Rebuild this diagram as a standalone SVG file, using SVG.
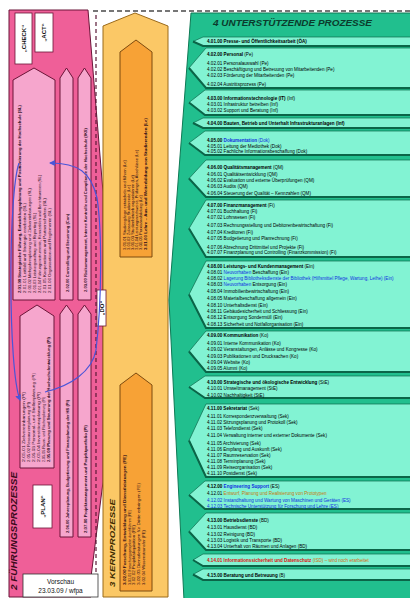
<svg xmlns="http://www.w3.org/2000/svg" width="410" height="598" viewBox="0 0 410 598">
<defs>
<style>
.t{font-family:"Liberation Sans",Arial,sans-serif;font-size:4.6px;fill:#000}
.r{font-family:"Liberation Sans",Arial,sans-serif;font-size:4px;fill:#2a0a18}
.b{font-weight:bold}
.lk{fill:#1030e0}
.row{fill:#82f3d3;stroke:#0c6a4c;stroke-width:0.7}
.sh{fill:none;stroke:#0b6548;stroke-width:2}
.pb{fill:#f6a6cd;stroke:#6b1538;stroke-width:1}
.ob{fill:#f7a236;stroke:#7d4a0e;stroke-width:1}
.wl{fill:#fff;stroke:#6b1538;stroke-width:0.8}
.lab{font-family:"Liberation Sans",Arial,sans-serif;font-size:6px;font-weight:bold;fill:#111;text-anchor:middle}
.ttl{font-family:"Liberation Sans",Arial,sans-serif;font-style:italic;font-weight:bold}
.blue{fill:none;stroke:#4a55d8;stroke-width:1.2}
</style>
<marker id="ah" markerWidth="6" markerHeight="6" refX="5" refY="3" orient="auto" markerUnits="userSpaceOnUse"><path d="M0,0 L6,3 L0,6 z" fill="#4a55d8"/></marker>
</defs>
<rect width="410" height="598" fill="#fff"/>

<g id="fuehrung">
<polygon points="9,10 88,10 103,192 103,482 91,577 91,597 9,597" fill="#ef5f98" stroke="#6b1538" stroke-width="1"/>
<text class="ttl" font-size="8.5" fill="#3a0a1a" transform="translate(17,590) rotate(-90)" textLength="118" lengthAdjust="spacingAndGlyphs">2 FÜHRUNGSPROZESSE</text>
<rect class="wl" x="15" y="13" width="17" height="51"/>
<text class="lab" transform="translate(25.8,38.5) rotate(-90)">„CHECK“</text>
<rect class="wl" x="35" y="13" width="18" height="39"/>
<text class="lab" transform="translate(46.2,32.5) rotate(-90)">„ACT“</text>
<polygon class="pb" points="13,80 34,68 55,80 55,300 13,300"/>
<polygon class="pb" points="60,78 66.5,68 73,78 73,300 60,300"/>
<polygon class="pb" points="78,78 84.5,68 91,78 91,300 78,300"/>
<text class="r b" transform="translate(21,293) rotate(-90)" textLength="188" lengthAdjust="spacingAndGlyphs">2.01.00 Strategische Führung, Entwicklungsplanung und Positionierung der Hochschule (SL)</text>
<text class="r" transform="translate(26,293) rotate(-90)" textLength="90" lengthAdjust="spacingAndGlyphs">2.01.01 Leitbild und Strategie erarbeiten (SL)</text>
<text class="r" transform="translate(31,293) rotate(-90)" textLength="105" lengthAdjust="spacingAndGlyphs">2.01.02 Mehrjahresplanung und Zielvereinbarungen (SL)</text>
<text class="r" transform="translate(36,293) rotate(-90)" textLength="80" lengthAdjust="spacingAndGlyphs">2.01.03 Leistungsauftrag und Reporting (SL)</text>
<text class="r" transform="translate(41,293) rotate(-90)" textLength="118" lengthAdjust="spacingAndGlyphs">2.01.04 Führungsinstrumente, Kennzahlen und Berichtswesen (SL)</text>
<text class="r" transform="translate(46,293) rotate(-90)" textLength="95" lengthAdjust="spacingAndGlyphs">2.01.05 Kooperationen und Partnerschaften (SL)</text>
<text class="r" transform="translate(51,293) rotate(-90)" textLength="85" lengthAdjust="spacingAndGlyphs">2.01.06 Organisation und Reglemente (SL)</text>
<text class="r b" transform="translate(69,292) rotate(-90)" textLength="78" lengthAdjust="spacingAndGlyphs">2.02.00 Controlling und Steuerung (Con)</text>
<text class="r b" transform="translate(87,292) rotate(-90)" textLength="164" lengthAdjust="spacingAndGlyphs">2.03.00 Risikomanagement, Interne Kontrolle und Compliance der Hochschule (IKS)</text>
<polygon class="pb" points="20,316 37,305 54,316 54,468 20,468"/>
<polygon class="pb" points="60,314 66.5,305 73,314 73,537 60,537"/>
<polygon class="pb" points="78,314 84.5,305 91,314 91,537 78,537"/>
<text class="r" transform="translate(25,462) rotate(-90)" textLength="70" lengthAdjust="spacingAndGlyphs">2.05.01 Zielvereinbarungen (Pl)</text>
<text class="r" transform="translate(30,462) rotate(-90)" textLength="60" lengthAdjust="spacingAndGlyphs">2.05.02 Ressourcenplanung (Pl)</text>
<text class="r" transform="translate(34.5,462) rotate(-90)" textLength="89" lengthAdjust="spacingAndGlyphs">2.05.03 Personal- und Stellenplanung (Pl)</text>
<text class="r" transform="translate(39.5,462) rotate(-90)" textLength="70" lengthAdjust="spacingAndGlyphs">2.05.04 Investitionsplanung (Pl)</text>
<text class="r" transform="translate(44.5,462) rotate(-90)" textLength="65" lengthAdjust="spacingAndGlyphs">2.05.05 Raum- und Flächenplanung (Pl)</text>
<text class="r b" transform="translate(50,462) rotate(-90)" textLength="125" lengthAdjust="spacingAndGlyphs">2.05.00 Planung und Steuerung der Hochschulentwicklung (Pl)</text>
<text class="r b" transform="translate(69,533) rotate(-90)" textLength="133" lengthAdjust="spacingAndGlyphs">2.06.00 Jahresplanung, Budgetierung und Finanzplanung der HS (Pl)</text>
<text class="r b" transform="translate(87,533) rotate(-90)" textLength="108" lengthAdjust="spacingAndGlyphs">2.07.00 Projektmanagement und Projektportfolio (Pl)</text>
<rect class="wl" x="33" y="485" width="19" height="43"/>
<text class="lab" transform="translate(44.8,506.5) rotate(-90)">„PLAN“</text>
</g>

<g id="kern">
<polygon points="103,26 135,13 168,26 168,597 103,597" fill="#fbc866" stroke="#9a6a1a" stroke-width="1"/>
<polygon class="ob" points="120,52 136,40 152,52 152,257 120,257"/>
<text class="r" transform="translate(126,250) rotate(-90)" textLength="90" lengthAdjust="spacingAndGlyphs">3.01.01 Studiengänge entwickeln und führen (Le)</text>
<text class="r" transform="translate(130,250) rotate(-90)" textLength="65" lengthAdjust="spacingAndGlyphs">3.01.02 Zulassung Studierende (Le)</text>
<text class="r" transform="translate(134,250) rotate(-90)" textLength="75" lengthAdjust="spacingAndGlyphs">3.01.03 Studienbetrieb organisieren (Le)</text>
<text class="r" transform="translate(138,250) rotate(-90)" textLength="100" lengthAdjust="spacingAndGlyphs">3.01.04 Leistungsnachweise, Prüfungen, Abschlüsse (Le)</text>
<text class="r" transform="translate(142,250) rotate(-90)" textLength="55" lengthAdjust="spacingAndGlyphs">3.01.05 Praxisausbildung (Le)</text>
<text class="r b" transform="translate(147,250) rotate(-90)" textLength="132" lengthAdjust="spacingAndGlyphs">3.01.00 Lehre – Aus- und Weiterbildung von Studierenden (Le)</text>
<polygon class="ob" points="120,385 136,373 152,385 152,591 120,591"/>
<text class="r b" transform="translate(126,585) rotate(-90)" textLength="130" lengthAdjust="spacingAndGlyphs">3.02.00 Forschung, Entwicklung und Dienstleistungen (FE)</text>
<text class="r" transform="translate(131,585) rotate(-90)" textLength="75" lengthAdjust="spacingAndGlyphs">3.02.01 Forschungsprojekte durchführen (FE)</text>
<text class="r" transform="translate(135,585) rotate(-90)" textLength="60" lengthAdjust="spacingAndGlyphs">3.02.02 Projektakquisition (FE)</text>
<text class="r" transform="translate(140,585) rotate(-90)" textLength="102" lengthAdjust="spacingAndGlyphs">3.02.03 Dienstleistungen für Dritte erbringen (FE)</text>
<text class="r" transform="translate(145,585) rotate(-90)" textLength="55" lengthAdjust="spacingAndGlyphs">3.02.04 Wissenstransfer (FE)</text>
<text class="ttl" font-size="8" fill="#3a2a00" transform="translate(115,587) rotate(-90)" textLength="88" lengthAdjust="spacingAndGlyphs">3 KERNPROZESSE</text>
</g>

<g id="do-label">
<rect class="wl" x="97" y="290" width="9" height="36"/>
<text class="lab" transform="translate(103.8,308) rotate(-90)">„DO“</text>
</g>

<g id="unterstuetzung">
<polygon points="191,13 412,13 412,600 184,600 169,300" fill="#21bf8e" stroke="#0e7a55" stroke-width="1"/>
<text class="ttl" x="213" y="26" font-size="9" fill="#0b3b2c" textLength="159" lengthAdjust="spacingAndGlyphs">4  UNTERSTÜTZENDE  PROZESSE</text>

<g id="r1"><polygon class="row" points="193,41.5 203,37 412,37 412,46 203,46"/><polyline class="sh" points="193,41.5 203,46 412,46"/>
<text class="t b" x="207" y="43.3">4.01.00 Presse- und Öffentlichkeitsarbeit (ÖA)</text></g>

<g id="r2"><polygon class="row" points="189,68 206,48 412,48 412,88 206,88"/><polyline class="sh" points="189,68 206,88 412,88"/>
<text class="t"><tspan class="b" x="207" y="55.8">4.02.00 Personal</tspan> (Pe)<tspan x="207" y="64.8">4.02.01 Personalauswahl (Pe)</tspan><tspan x="207" y="70.8">4.02.02 Beschäftigung und Betreuung von Mitarbeitenden (Pe)</tspan><tspan x="207" y="76.6">4.02.03 Förderung der Mitarbeitenden (Pe)</tspan><tspan x="207" y="86.4">4.02.04 Austrittsprozess (Pe)</tspan></text></g>

<g id="r3"><polygon class="row" points="189,102.5 205,90 412,90 412,115 205,115"/><polyline class="sh" points="189,102.5 205,115 412,115"/>
<text class="t"><tspan class="b" x="207" y="99.5">4.03.00 Informationstechnologie (IT)</tspan> (Inf)<tspan x="207" y="105.6">4.03.01 Infrastruktur betreiben (Inf)</tspan><tspan x="207" y="111.6">4.03.02 Support und Beratung (Inf)</tspan></text></g>

<g id="r4"><polygon class="row" points="193,123 203,118 412,118 412,128 203,128"/><polyline class="sh" points="193,123 203,128 412,128"/>
<text class="t b" x="207" y="125.4">4.04.00 Bauten, Betrieb und Unterhalt Infrastrukturanlagen (Inf)</text></g>

<g id="r5"><polygon class="row" points="189,143 205,131 412,131 412,155 205,155"/><polyline class="sh" points="189,143 205,155 412,155"/>
<text class="t"><tspan class="b" x="207" y="141.5">4.05.00 </tspan><tspan class="b lk">Dokumentation</tspan> <tspan class="lk">(Dok)</tspan><tspan x="207" y="147.6">4.05.01 Leitung der Mediothek (Dok)</tspan><tspan x="207" y="153.4">4.05.02 Fachliche Informationsbeschaffung (Dok)</tspan></text></g>

<g id="r6"><polygon class="row" points="189,178.5 206,160 412,160 412,197 206,197"/><polyline class="sh" points="189,178.5 206,197 412,197"/>
<text class="t"><tspan class="b" x="207" y="168.5">4.06.00 Qualitätsmanagement</tspan> (QM)<tspan x="207" y="175.5">4.06.01 Qualitätsentwicklung (QM)</tspan><tspan x="207" y="181.5">4.06.02 Evaluation und externe Überprüfungen (QM)</tspan><tspan x="207" y="187.5">4.06.03 Audits (QM)</tspan><tspan x="207" y="194.5">4.06.04 Steuerung der Qualität – Kennzahlen (QM)</tspan></text></g>

<g id="r7"><polygon class="row" points="189,228.5 206,200 412,200 412,257 206,257"/><polyline class="sh" points="189,228.5 206,257 412,257"/>
<text class="t"><tspan class="b" x="207" y="206.5">4.07.00 Finanzmanagement</tspan> (Fi)<tspan x="207" y="212.5">4.07.01 Buchhaltung (Fi)</tspan><tspan x="207" y="218.5">4.07.02 Lohnwesen (Fi)</tspan><tspan x="207" y="226.5">4.07.03 Rechnungsstellung und Debitorenbewirtschaftung (Fi)</tspan><tspan x="207" y="233.5">4.07.04 Kreditoren (Fi)</tspan><tspan x="207" y="239.5">4.07.05 Budgetierung und Planrechnung (Fi)</tspan><tspan x="207" y="248.5">4.07.06 Abrechnung Drittmittel und Projekte (Fi)</tspan><tspan x="207" y="254">4.07.07 Finanzplanung und Controlling (Finanzkommission) (Fi)</tspan></text></g>

<g id="r8"><polygon class="row" points="189,294.5 206,261 412,261 412,328 206,328"/><polyline class="sh" points="189,294.5 206,328 412,328"/>
<text class="t"><tspan class="b" x="207" y="268">4.08.00 Leistungs- und Kundenmanagement</tspan> (Ein)<tspan x="207" y="274">4.08.01 </tspan><tspan class="lk">Neuvorhaben</tspan> Beschaffung (Ein)<tspan x="207" y="280">4.08.02 </tspan><tspan class="lk">Lagerung Bibliotheksdienste der Bibliothek (Hilfsmittel Pflege, Wartung, Leihe) (Ein)</tspan><tspan x="207" y="286">4.08.03 </tspan><tspan class="lk">Neuvorhaben</tspan> Entsorgung (Ein)<tspan x="207" y="293">4.08.04 Immobilienbewirtschaftung (Ein)</tspan><tspan x="207" y="299.5">4.08.05 Materialbeschaffung allgemein (Ein)</tspan><tspan x="207" y="306.5">4.08.10 Unterhaltsdienst (Ein)</tspan><tspan x="207" y="312.5">4.08.11 Gebäudesicherheit und Schliessung (Ein)</tspan><tspan x="207" y="318.5">4.08.12 Entsorgung Sondermüll (Ein)</tspan><tspan x="207" y="325.5">4.08.13 Sicherheit und Notfallorganisation (Ein)</tspan></text></g>

<g id="r9"><polygon class="row" points="189,351.5 206,331 412,331 412,372 206,372"/><polyline class="sh" points="189,351.5 206,372 412,372"/>
<text class="t"><tspan class="b" x="207" y="337">4.09.00 Kommunikation</tspan> (Ko)<tspan x="207" y="344.5">4.09.01 Interne Kommunikation (Ko)</tspan><tspan x="207" y="351">4.09.02 Veranstaltungen, Anlässe und Kongresse (Ko)</tspan><tspan x="207" y="357.5">4.09.03 Publikationen und Drucksachen (Ko)</tspan><tspan x="207" y="364">4.09.04 Website (Ko)</tspan><tspan x="207" y="369.8">4.09.05 Alumni (Ko)</tspan></text></g>

<g id="r10"><polygon class="row" points="189,387 205,376 412,376 412,398 205,398"/><polyline class="sh" points="189,387 205,398 412,398"/>
<text class="t"><tspan class="b" x="207" y="383.5">4.10.00 Strategische und ökologische Entwicklung</tspan> (StE)<tspan x="207" y="389.5">4.10.01 Umweltmanagement (StE)</tspan><tspan x="207" y="396.5">4.10.02 Nachhaltigkeit (StE)</tspan></text></g>

<g id="r11"><polygon class="row" points="189,440.5 206,404 412,404 412,477 206,477"/><polyline class="sh" points="189,440.5 206,477 412,477"/>
<text class="t"><tspan class="b" x="207" y="409.5">4.11.00 Sekretariat</tspan> (Sek)<tspan x="207" y="417.5">4.11.01 Korrespondenzverwaltung (Sek)</tspan><tspan x="207" y="423.5">4.11.02 Sitzungsplanung und Protokoll (Sek)</tspan><tspan x="207" y="429.5">4.11.03 Telefondienst (Sek)</tspan><tspan x="207" y="436.5">4.11.04 Verwaltung interner und externer Dokumente (Sek)</tspan><tspan x="207" y="444.5">4.11.05 Archivierung (Sek)</tspan><tspan x="207" y="450.5">4.11.06 Empfang und Auskunft (Sek)</tspan><tspan x="207" y="456.5">4.11.07 Raumreservation (Sek)</tspan><tspan x="207" y="462.5">4.11.08 Terminplanung (Sek)</tspan><tspan x="207" y="468.5">4.11.09 Reiseorganisation (Sek)</tspan><tspan x="207" y="475">4.11.10 Postdienst (Sek)</tspan></text></g>

<g id="r12"><polygon class="row" points="189,495 205,481 412,481 412,509 205,509"/><polyline class="sh" points="189,495 205,509 412,509"/>
<text class="t"><tspan class="b" x="207" y="487.5">4.12.00 </tspan><tspan class="b lk">Engineering Support</tspan> (ES)<tspan x="207" y="494.5">4.12.01 </tspan><tspan fill="#c8780e">Entwurf, Planung und Realisierung von Prototypen</tspan><tspan class="lk" x="207" y="501.5">4.12.02 Instandhaltung und Wartung von Maschinen und Geräten (ES)</tspan><tspan class="lk" x="207" y="507.5">4.12.03 Technische Unterstützung für Forschung und Lehre (ES)</tspan></text></g>

<g id="r13"><polygon class="row" points="189,531.5 206,513 412,513 412,550 206,550"/><polyline class="sh" points="189,531.5 206,550 412,550"/>
<text class="t"><tspan class="b" x="207" y="521.5">4.13.00 Betriebsdienste</tspan> (BD)<tspan x="207" y="528.5">4.13.01 Hausdienst (BD)</tspan><tspan x="207" y="535.5">4.13.02 Reinigung (BD)</tspan><tspan x="207" y="541.5">4.13.03 Logistik und Transporte (BD)</tspan><tspan x="207" y="548">4.13.04 Unterhalt von Räumen und Anlagen (BD)</tspan></text></g>

<g id="r14"><polygon class="row" points="193,560 203,554 412,554 412,566 203,566"/><polyline class="sh" points="193,560 203,566 412,566"/>
<text class="t" x="207" y="561.6" fill="#e01010"><tspan class="b" fill="#e01010">4.14.01 Informationssicherheit und Datenschutz</tspan><tspan fill="#d86a10"> (ISD) – wird noch erarbeitet</tspan></text></g>

<g id="r15"><polygon class="row" points="193,574.5 203,569 412,569 412,580 203,580"/><polyline class="sh" points="193,574.5 203,580 412,580"/>
<text class="t" x="207" y="576.6"><tspan class="b">4.15.00 Beratung und Betreuung</tspan> (B)</text></g>
</g>

<g id="connectors">
<path d="M93,11 L410,11" fill="none" stroke="#4a4a4a" stroke-width="1.5" stroke-dasharray="5,3"/>
<path d="M96,15 L96,590" fill="none" stroke="#5a1a38" stroke-width="1.2" stroke-dasharray="4,3"/>
<path class="blue" d="M19,163 C8,195 8,370 20,400" marker-end="url(#ah)"/>
<path class="blue" d="M45,392 C70,386 92,372 96,350 C102,300 102,230 97,198 C91,172 78,163 50,163" marker-end="url(#ah)"/>
</g>

<g id="vorschau">
<rect x="23" y="574" width="75" height="23" fill="#fff" stroke="#333" stroke-width="0.8"/>
<text class="lab" x="60.5" y="583.5" style="font-size:6.5px;font-weight:normal">Vorschau</text>
<text class="lab" x="60.5" y="592.5" style="font-size:6.5px;font-weight:normal">23.03.09 / wfpa</text>
</g>
</svg>
